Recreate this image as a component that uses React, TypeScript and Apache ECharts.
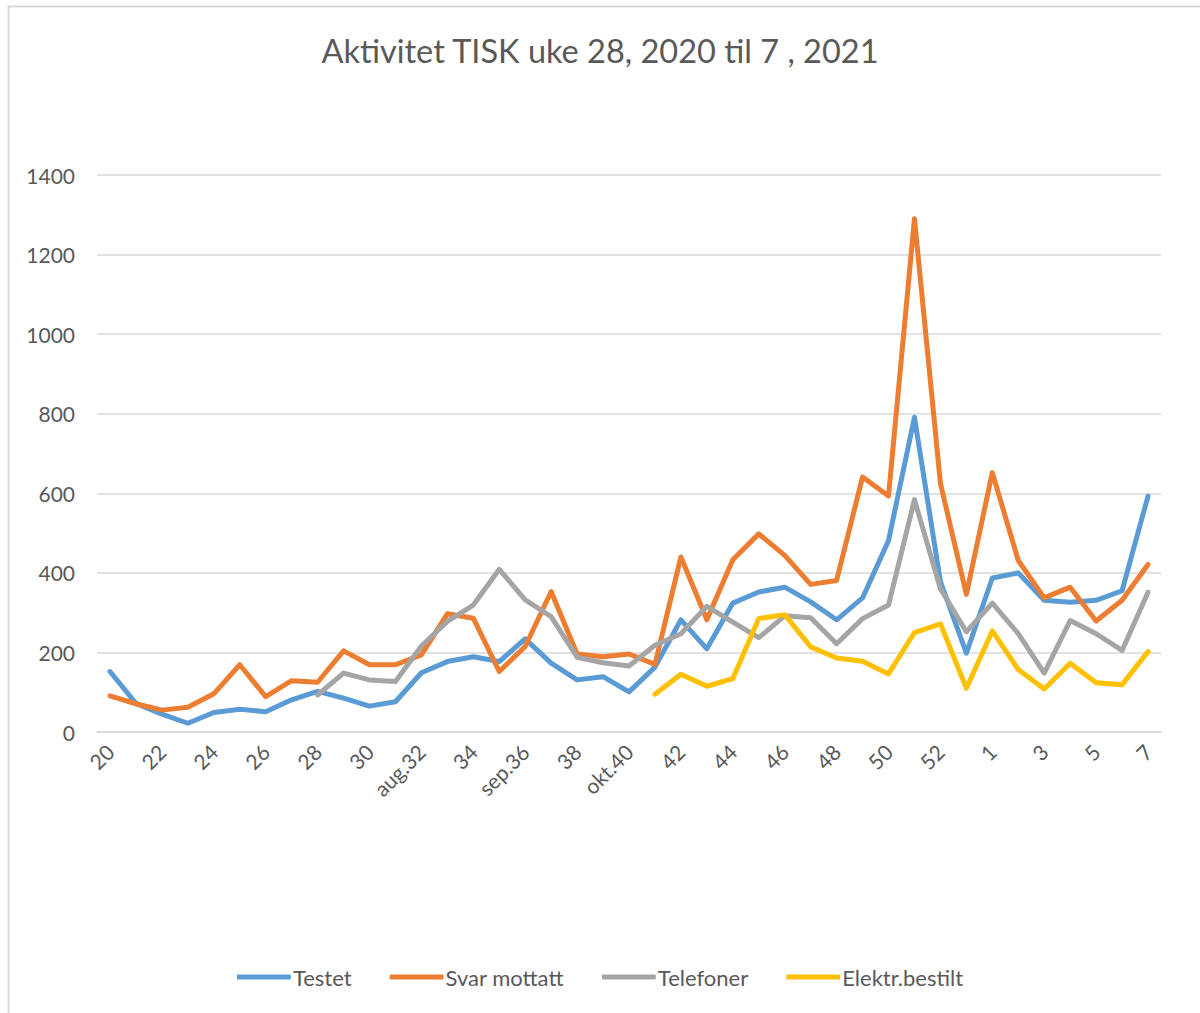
import React, { useEffect, useRef } from "react";
import * as echarts from "echarts";

const weeks: string[] = [
  "20", "21", "22", "23", "24", "25", "26", "27", "28", "29", "30", "31",
  "aug.32", "33", "34", "35", "sep.36", "37", "38", "39", "okt.40", "41",
  "42", "43", "44", "45", "46", "47", "48", "49", "50", "51", "52", "53",
  "1", "2", "3", "4", "5", "6", "7",
];

const testet: (number | null)[] = [
  152, 72, 45, 22, 49, 57, 51, 81, 102, 85, 65, 76, 149, 177, 189, 177, 234,
  173, 131, 139, 101, 163, 282, 209, 324, 352, 364, 327, 282, 337, 481, 791,
  378, 198, 387, 400, 331, 326, 331, 355, 593,
];

const svarMottatt: (number | null)[] = [
  91, 71, 55, 62, 96, 169, 89, 129, 125, 204, 169, 169, 194, 297, 286, 152,
  215, 353, 196, 189, 196, 170, 440, 282, 433, 498, 444, 371, 381, 641, 593,
  1290, 625, 346, 652, 431, 337, 364, 279, 331, 421,
];

const telefoner: (number | null)[] = [
  null, null, null, null, null, null, null, null, 93, 148, 131, 127, 216, 278,
  319, 409, 332, 290, 188, 174, 166, 218, 247, 316, 276, 237, 292, 287, 222,
  285, 319, 584, 360, 252, 324, 247, 148, 280, 247, 205, 351,
];

const elektrBestilt: (number | null)[] = [
  null, null, null, null, null, null, null, null, null, null, null, null, null,
  null, null, null, null, null, null, null, null, 95, 145, 115, 134, 285, 295,
  214, 186, 178, 146, 250, 272, 110, 254, 157, 108, 173, 124, 119, 202,
];

const seriesNames = ["Testet", "Svar mottatt", "Telefoner", "Elektr.bestilt"];
const seriesColors = ["#5B9BD5", "#ED7D31", "#A5A5A5", "#FFC000"];
const titleText = "Aktivitet TISK uke 28, 2020 til 7 , 2021";

export default function App() {
  const ref = useRef<HTMLDivElement>(null);

  useEffect(() => {
    document.body.style.margin = "0";
    if (!ref.current) return;
    const chart = echarts.init(ref.current, undefined, { renderer: "svg" });
    const font = "Lato, 'Open Sans', sans-serif";
    const textColor = "#595959";
    const allData = [testet, svarMottatt, telefoner, elektrBestilt];
    chart.setOption({
      animation: false,
      backgroundColor: "#ffffff",
      textStyle: { fontFamily: font },
      title: {
        text: titleText,
        left: "center",
        top: 29,
        textStyle: {
          fontFamily: font,
          fontSize: 32.5,
          fontWeight: "normal",
          color: textColor,
        },
      },
      legend: {
        bottom: 20,
        left: "center",
        itemWidth: 54,
        itemHeight: 5,
        itemGap: 38,
        icon: "roundRect",
        textStyle: { fontFamily: font, fontSize: 22, color: textColor, padding: [0, 0, 0, -3] },
        data: seriesNames,
      },
      grid: {
        left: 97,
        right: 39,
        top: 175,
        bottom: 281,
        containLabel: false,
      },
      xAxis: {
        type: "category",
        data: weeks,
        boundaryGap: true,
        axisLine: { show: true, lineStyle: { color: "#D9D9D9", width: 1.5 } },
        axisTick: { show: false },
        axisLabel: {
          interval: 1,
          rotate: 45,
          fontFamily: font,
          fontSize: 21,
          color: textColor,
          margin: 16,
        },
      },
      yAxis: {
        type: "value",
        min: 0,
        max: 1400,
        interval: 200,
        axisLine: { show: false },
        axisTick: { show: false },
        splitLine: { lineStyle: { color: "#D9D9D9", width: 1.5 } },
        axisLabel: {
          fontFamily: font,
          fontSize: 21,
          color: textColor,
          margin: 22,
          formatter: (v: number) => String(v),
        },
      },
      series: seriesNames.map((name, i) => ({
        name,
        type: "line",
        data: allData[i],
        symbol: "none",
        connectNulls: false,
        color: seriesColors[i],
        lineStyle: { width: 5, color: seriesColors[i], cap: "round", join: "round" },
        itemStyle: { color: seriesColors[i] },
      })),
      graphic: [
        {
          type: "line",
          shape: { x1: 8, y1: 6.5, x2: 1200, y2: 6.5 },
          style: { stroke: "#D9D9D9", lineWidth: 2 },
        },
        {
          type: "line",
          shape: { x1: 8.5, y1: 6, x2: 8.5, y2: 1013 },
          style: { stroke: "#D9D9D9", lineWidth: 2 },
        },
      ],
    });
    return () => chart.dispose();
  }, []);

  return <div ref={ref} style={{ width: 1200, height: 1013 }} />;
}
